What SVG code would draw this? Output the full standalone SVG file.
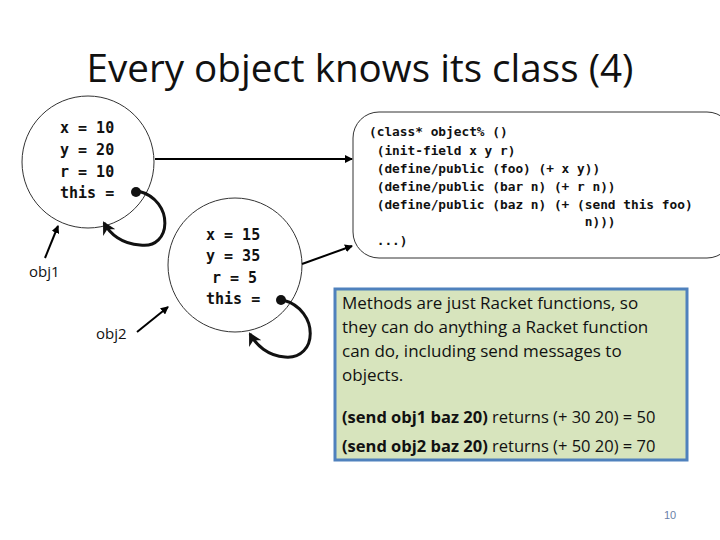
<svg xmlns="http://www.w3.org/2000/svg" width="720" height="540" viewBox="0 0 720 540">
<style>
.mono{font-family:"DejaVu Sans Mono","Liberation Mono",monospace;font-size:15px;font-weight:bold;fill:#111}
.code{font-family:"DejaVu Sans Mono","Liberation Mono",monospace;font-size:12.8px;font-weight:bold;fill:#111;white-space:pre}
.sans{font-family:"Open Sans","Liberation Sans",sans-serif;fill:#111}
.ln{stroke:#000;stroke-width:2;fill:none}
.loop{stroke:#111;stroke-width:3;fill:none}
</style>
<defs>
<marker id="ah" markerWidth="8" markerHeight="8" refX="7" refY="4" orient="auto" markerUnits="userSpaceOnUse"><path d="M0,0L8,4L0,8z" fill="#000"/></marker>
<marker id="ah2" markerWidth="14" markerHeight="14" refX="11" refY="7" orient="auto" markerUnits="userSpaceOnUse"><path d="M0,0L13,7L0,14L4,7z" fill="#111"/></marker>
</defs>
<rect width="720" height="540" fill="#fff"/>
<text x="360" y="82" text-anchor="middle" class="sans" font-size="38" textLength="547" lengthAdjust="spacingAndGlyphs">Every object knows its class (4)</text>
<g id="obj1">
<circle cx="88" cy="162" r="66" fill="#fff" stroke="#333" stroke-width="1"/>
<text class="mono" x="60" y="133">x = 10</text>
<text class="mono" x="60" y="155">y = 20</text>
<text class="mono" x="60" y="177">r = 10</text>
<text class="mono" x="60" y="198">this =</text>
<circle cx="136" cy="192" r="5" fill="#111"/>
</g>
<g id="obj2">
<circle cx="235" cy="265" r="67" fill="#fff" stroke="#333" stroke-width="1"/>
<text class="mono" x="206" y="240">x = 15</text>
<text class="mono" x="206" y="261">y = 35</text>
<text class="mono" x="212" y="283">r = 5</text>
<text class="mono" x="206" y="304">this =</text>
<circle cx="281" cy="300" r="5" fill="#111"/>
</g>
<g id="class">
<rect x="353" y="112" width="380" height="146" rx="26" fill="#fff" stroke="#333" stroke-width="1"/>
<text class="code" xml:space="preserve" x="369" y="136">(class* object% ()</text>
<text class="code" xml:space="preserve" x="369" y="155"> (init-field x y r)</text>
<text class="code" xml:space="preserve" x="369" y="173"> (define/public (foo) (+ x y))</text>
<text class="code" xml:space="preserve" x="369" y="191"> (define/public (bar n) (+ r n))</text>
<text class="code" xml:space="preserve" x="369" y="209"> (define/public (baz n) (+ (send this foo)</text>
<text class="code" xml:space="preserve" x="369" y="226">                            n)))</text>
<text class="code" xml:space="preserve" x="369" y="245"> ...)</text>
</g>
<g id="note">
<rect x="335" y="289" width="352" height="171" fill="#d7e4bd" stroke="#4f81bd" stroke-width="3"/>
<text class="sans" font-size="17" x="342" y="309">Methods are just Racket functions, so</text>
<text class="sans" font-size="17" x="342" y="333">they can do anything a Racket function</text>
<text class="sans" font-size="17" x="342" y="357">can do, including send messages to</text>
<text class="sans" font-size="17" x="342" y="381">objects.</text>
<text class="sans" font-size="16.5" x="342" y="423"><tspan font-weight="bold">(send obj1 baz 20)</tspan> returns (+ 30 20) = 50</text>
<text class="sans" font-size="16.5" x="342" y="452"><tspan font-weight="bold">(send obj2 baz 20)</tspan> returns (+ 50 20) = 70</text>
</g>
<g id="labels">
<text class="sans" font-size="15" x="29" y="277">obj1</text>
<text class="sans" font-size="15" x="96" y="339">obj2</text>
<text x="670" y="519" text-anchor="middle" font-family="Liberation Sans,sans-serif" font-size="11" fill="#6a7fa8">10</text>
</g>
<g id="connectors">
<line class="ln" x1="155" y1="159" x2="352" y2="159" marker-end="url(#ah)"/>
<line class="ln" x1="302" y1="264" x2="352" y2="246" marker-end="url(#ah)"/>
<line class="ln" x1="45" y1="258" x2="58" y2="226" marker-end="url(#ah)"/>
<line class="ln" x1="137" y1="332" x2="168" y2="307" marker-end="url(#ah)"/>
<path class="loop" d="M138,191 C175,200 172,250 140,245 C122,244 110,234 104,223" marker-end="url(#ah2)"/>
<path class="loop" d="M283,300 C320,310 318,360 285,357 C268,356 256,345 250,334" marker-end="url(#ah2)"/>
</g>
</svg>
